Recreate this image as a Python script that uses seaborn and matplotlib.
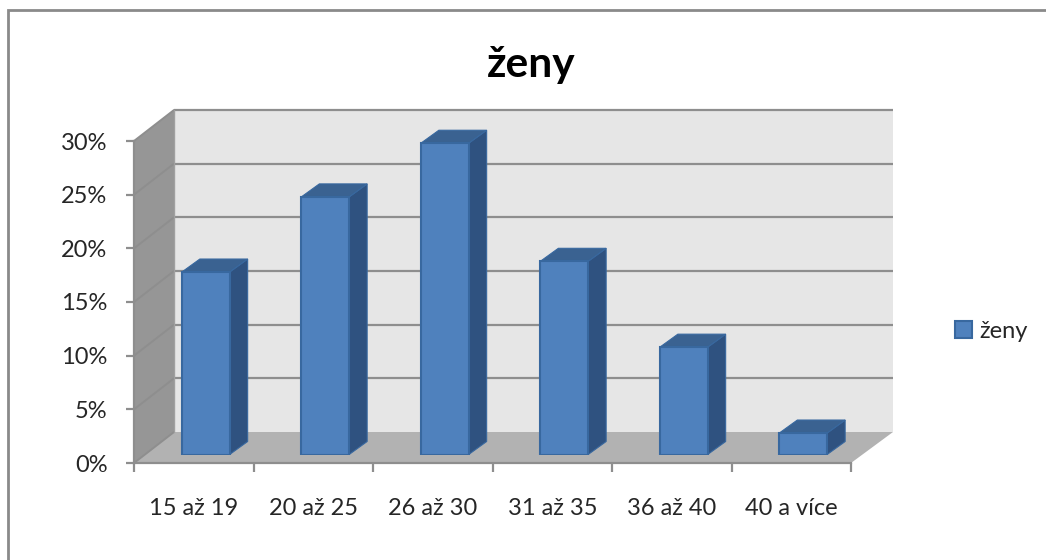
import matplotlib
matplotlib.use("Agg")
import matplotlib.pyplot as plt
import pandas as pd
import seaborn as sns
from matplotlib.patches import Polygon

categories = ["15 až 19", "20 až 25", "26 až 30", "31 až 35", "36 až 40", "40 a více"]
values = [17, 24, 29, 18, 10, 2]
y_ticks = [0, 5, 10, 15, 20, 25, 30]
series_name = "ženy"

W, H = 1046, 560
FRONT = "#4f81bd"
SIDE = "#2f5280"
TOP = "#3a6291"
EDGE = "#38689f"
GRID = "#8e8e8e"
TEXT = "#262626"

sns.set_theme(style="white")
plt.rcParams["font.family"] = ["Lato", "DejaVu Sans"]


def ax_rect(left, top, right, bottom):
    # pixel box -> figure fractions
    return [left / W, 1 - bottom / H, (right - left) / W, (bottom - top) / H]


fig = plt.figure(figsize=(W / 100, H / 100), dpi=100, facecolor="white")

# full figure axes in pixel units for the walls and the outer border
bg = fig.add_axes([0, 0, 1, 1], zorder=0)
bg.set_xlim(0, W)
bg.set_ylim(H, 0)
bg.axis("off")

# front plane of the chart, carries the ticks
ax = fig.add_axes(ax_rect(134, 141, 851, 463), zorder=1)
ax.patch.set_alpha(0)
ax.set_xlim(-0.5, 5.5)
ax.set_ylim(0, 30)

# the bars stand a little behind the front plane
ax_bars = fig.add_axes(ax_rect(146, 132.5, 863, 454.5), zorder=2)
ax_bars.patch.set_alpha(0)

df = pd.DataFrame({"age": categories, "share": values})
sns.barplot(
    data=df, x="age", y="share", ax=ax_bars, color=FRONT, saturation=1,
    width=0.4, edgecolor=EDGE, linewidth=1.5, label=series_name,
)
ax_bars.set_xlim(-0.5, 5.5)
ax_bars.set_ylim(0, 30)
ax_bars.axis("off")

# depth of the walls and of the bars, in pixels
WALL_DX, WALL_DY = 40, -31
BAR_DX, BAR_DY = 18, -13


def to_px(axes, x, y):
    px, py = axes.transData.transform((x, y))
    return px, H - py


x0, y0 = to_px(ax, -0.5, 0)
x1, _ = to_px(ax, 5.5, 0)
_, y_top = to_px(ax, -0.5, 30)

bg.add_patch(Polygon(
    [(x0 + WALL_DX, y_top + WALL_DY), (x1 + WALL_DX + 2, y_top + WALL_DY),
     (x1 + WALL_DX + 2, y0 + WALL_DY), (x0 + WALL_DX, y0 + WALL_DY)],
    fc="#e6e6e6", ec="none", zorder=1))
bg.add_patch(Polygon(
    [(x0, y_top), (x0 + WALL_DX, y_top + WALL_DY), (x0 + WALL_DX, y0 + WALL_DY), (x0, y0)],
    fc="#969696", ec="none", zorder=1))
bg.add_patch(Polygon(
    [(x0, y0), (x0 + WALL_DX, y0 + WALL_DY), (x1 + WALL_DX + 2, y0 + WALL_DY), (x1, y0)],
    fc="#b2b2b2", ec="none", zorder=1))

for t in y_ticks:
    _, yy = to_px(ax, -0.5, t)
    if t > 0:
        bg.plot([x0 + WALL_DX, x1 + WALL_DX + 2], [yy + WALL_DY] * 2, color=GRID, lw=1.6,
                solid_capstyle="butt", zorder=2)
    bg.plot([x0, x0 + WALL_DX], [yy, yy + WALL_DY], color=GRID, lw=1.4, zorder=2)
bg.plot([x0 + WALL_DX] * 2, [y_top + WALL_DY, y0 + WALL_DY], color="#a0a0a0", lw=1, zorder=2)

# outer chart border, only left and top are visible in the crop
bg.plot([8, 8, W], [H, 10, 10], color="#8a8a8a", lw=2, solid_joinstyle="miter", zorder=2)

# side and top faces of each bar
for bar in ax_bars.patches:
    left, right = bar.get_x(), bar.get_x() + bar.get_width()
    xl, yt = to_px(ax_bars, left, bar.get_height())
    xr, yb = to_px(ax_bars, right, 0)
    bg.add_patch(Polygon(
        [(xr, yt), (xr + BAR_DX, yt + BAR_DY), (xr + BAR_DX, yb + BAR_DY), (xr, yb)],
        fc=SIDE, ec=EDGE, lw=0.8, zorder=3))
    bg.add_patch(Polygon(
        [(xl, yt), (xl + BAR_DX, yt + BAR_DY), (xr + BAR_DX, yt + BAR_DY), (xr, yt)],
        fc=TOP, ec=EDGE, lw=0.8, zorder=3))

# axis styling
for side in ["top", "right"]:
    ax.spines[side].set_visible(False)
for side in ["left", "bottom"]:
    ax.spines[side].set_color(GRID)
    ax.spines[side].set_linewidth(1.6)

ax.set_yticks(y_ticks)
ax.set_yticklabels([f"{t}%" for t in y_ticks], fontsize=17, color=TEXT)
ax.set_xticks(range(len(categories)))
ax.set_xticklabels(categories, fontsize=17, color=TEXT)
ax.set_xticks([i - 0.5 for i in range(len(categories) + 1)], minor=True)
ax.tick_params(axis="x", which="major", length=0, pad=25)
ax.tick_params(axis="x", which="minor", length=6.5, width=1.6, color=GRID, bottom=True)
ax.tick_params(axis="y", length=6, width=1.6, color=GRID, left=True, pad=13)

fig.text(531 / W, 1 - 65 / H, series_name, ha="center", va="center",
         fontsize=30.5, fontweight="bold", color="black")

leg = ax_bars.legend(
    loc="center left", bbox_to_anchor=(955 / W, 1 - 331 / H), bbox_transform=fig.transFigure,
    frameon=False, fontsize=17, handlelength=0.72, handleheight=0.72,
    handletextpad=0.3, borderpad=0, borderaxespad=0, labelcolor=TEXT,
)

fig.savefig("out.png", dpi=100)
